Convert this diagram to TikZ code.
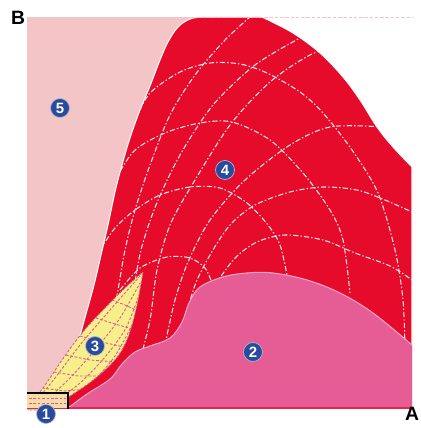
\documentclass[tikz,border=0pt]{standalone}
\usepackage{fontspec}
\setmainfont{Liberation Sans}
\usetikzlibrary{positioning}
\definecolor{zonaClara}{HTML}{F4C5C7}
\definecolor{zonaRoja}{HTML}{E60A2B}
\definecolor{zonaRosa}{HTML}{E65C95}
\definecolor{zonaAmarilla}{HTML}{F7EF8A}
\definecolor{numAzul}{HTML}{2A4B9B}
\definecolor{lineaMalva}{HTML}{D9569A}

\begin{document}
\begin{tikzpicture}[x=0.02cm, y=-0.02cm,
      malla/.style={draw=white!90!zonaRoja, line width=0.6pt,
                    dash pattern=on 3pt off 1.2pt on 0.8pt off 1.2pt},
      vena/.style={draw=lineaMalva, line width=0.5pt, dash pattern=on 1.5pt off 1pt},
      num/.style={circle, fill=numAzul, draw=white!60!numAzul, line width=0.4pt,
                  text=white, inner sep=0pt, minimum size=0.38cm,
                  font=\fontsize{8.5}{9}\selectfont\bfseries},
      eje/.style={font=\fontsize{11}{12}\selectfont\bfseries}]
    \useasboundingbox (0,0) rectangle (420,428);
    \def\bordeRojo{plot[smooth, tension=0.6] coordinates {(80,336) (86,314) (94,285) (101,255)
      (108,225) (115,192) (122,165) (130,138) (140,110) (150,86) (160,60) (168,42) (178,27) (190,19) (202,17)}
      -- (262,17) -- plot[smooth, tension=0.6] coordinates {(264,18) (293,33) (320,53) (343,77)
      (360,100) (377,127) (393,147) (412,167)} -- (412,408) -- (65,408) -- cycle}
    \def\bordeLente{plot[smooth, tension=0.6] coordinates {(143,272) (138,300) (132,325) (126,342)
      (118,356) (105,370) (88,384) (70,396) (55,406) (50,410)} -- (28,410) -- plot[smooth, tension=0.6]
      coordinates {(30,404) (40,392) (50,378) (62,360) (75,342) (88,326) (105,308) (125,288) (143,272)} -- cycle}
    \def\bordeRosa{plot[smooth, tension=0.6] coordinates {(68,408) (87,394) (110,379) (122,364)
      (135,352) (150,346) (170,338) (182,322) (189,303) (200,287) (223,277) (247,273) (273,273)
      (307,280) (340,293) (373,313) (412,345)}}

    % zona 5 y zona 4
    \fill[zonaClara] (27,17) rectangle (230,408);
    \path[fill=zonaRoja, draw=white, line width=0.6pt] \bordeRojo;
    \begin{scope}
      \clip \bordeRojo;
      \draw[malla] plot[smooth] coordinates {(135,120) (150,93) (180,72) (210,63) (240,64) (267,73) (300,92) (323,113) (352,150) (378,193) (395,250) (403,300) (405,350)};
      \draw[malla] plot[smooth] coordinates {(110,190) (133,152) (165,133) (200,123) (232,122) (270,140) (303,173) (330,210) (343,240) (350,293)};
      \draw[malla] plot[smooth] coordinates {(100,250) (115,228) (135,210) (160,195) (190,187) (220,188) (247,203) (268,225) (280,245) (287,275)};
      \draw[malla] plot[smooth] coordinates {(120,290) (140,268) (167,257) (190,258) (205,268) (212,283)};
      \draw[malla] plot[smooth] coordinates {(112,320) (118,290) (125,250) (135,210) (150,165) (170,115) (195,75) (225,40) (250,17)};
      \draw[malla] plot[smooth] coordinates {(128,335) (133,295) (141,250) (156,205) (180,155) (213,105) (255,65) (300,38)};
      \draw[malla] plot[smooth] coordinates {(140,360) (150,320) (157,270) (170,225) (192,185) (230,125) (270,82) (310,55) (350,40)};
      \draw[malla] plot[smooth] coordinates {(165,345) (175,300) (188,262) (210,220) (245,180) (290,145) (330,127) (383,127) (412,132)};
      \draw[malla] plot[smooth] coordinates {(185,320) (195,285) (210,255) (230,225) (255,205) (290,192) (323,187) (357,190) (385,200) (412,212)};
      \draw[malla] plot[smooth] coordinates {(215,285) (235,258) (257,242) (285,235) (323,240) (355,253) (390,266) (412,280)};
    \end{scope}

    % zona 3
    \fill[zonaAmarilla] \bordeLente;
    \begin{scope}
      \clip \bordeLente;
      \draw[vena] plot[smooth] coordinates {(32,406) (55,378) (80,345) (110,310) (140,276)};
      \draw[vena] plot[smooth] coordinates {(40,406) (68,380) (95,350) (120,318) (140,283)};
      \draw[vena] plot[smooth] coordinates {(50,406) (80,383) (105,357) (126,328) (140,292)};
      \draw[vena] plot[smooth] coordinates {(62,404) (92,382) (115,356) (132,325)};
      \draw[vena] (112,300) -- (125,305) -- (140,312);
      \draw[vena] (96,318) -- (115,324) -- (136,330);
      \draw[vena] (80,336) -- (102,342) -- (128,348);
      \draw[vena] (66,355) -- (90,360) -- (118,362);
      \draw[vena] (54,372) -- (78,376) -- (104,376);
      \draw[vena] (42,388) -- (64,391) -- (88,389);
    \end{scope}
    \draw[vena] \bordeLente;

    % zona 2
    \fill[zonaRosa] \bordeRosa -- (412,408) -- cycle;
    \draw[zonaRosa!55!white, line width=0.6pt] \bordeRosa;

    % marco y zona 1
    \draw[zonaClara, line width=0.4pt, dash pattern=on 2pt off 1pt] (27,17) -- (412,17);
    \draw[zonaRoja!70!zonaRosa, line width=0.6pt] (27,408) -- (412,408);
    \fill[zonaAmarilla!55!zonaClara] (27,393) rectangle (68,407.5);
    \draw[vena] (29,398) -- (66,398);
    \draw[vena] (29,403) -- (66,403);
    \draw[line width=1.7pt] (27,393) -- (68,393) -- (68,409);

    \node[num] (r5) at (60,108)  {5};
    \node[num] (r4) at (225,170) {4};
    \node[num] (r3) at (95,346)  {3};
    \node[num] (r2) at (253,352) {2};
    \node[num] (r1) at (46,414)  {1};
    \node[eje] (ejeB) at (18,18)   {B};
    \node[eje] (ejeA) at (412,414) {A};
  \end{tikzpicture}
\end{document}
